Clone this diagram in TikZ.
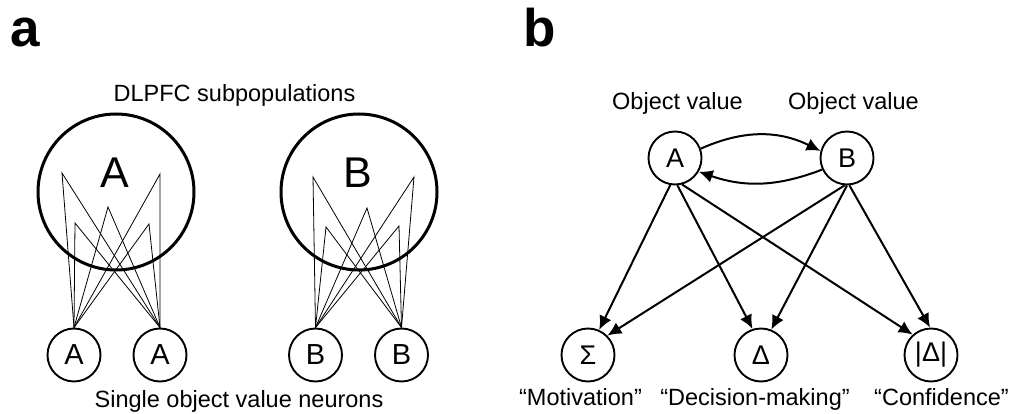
\documentclass[tikz,border=0pt]{standalone}
\usepackage{fontspec}
\setmainfont{Liberation Sans}
\usetikzlibrary{arrows.meta}
\begin{document}
\begin{tikzpicture}[x=1pt,y=-1pt,
  bigpop/.style={circle,draw,line width=3pt,minimum size=156pt,inner sep=0pt},
  neuron/.style={circle,draw,line width=1.9pt,minimum size=53pt,inner sep=0pt,font=\fontsize{29}{32}\selectfont},
  vnode/.style={neuron,font=\fontsize{27}{30}\selectfont},
  biglbl/.style={anchor=base,inner sep=0pt,font=\fontsize{43}{50}\selectfont},
  fiber/.style={line width=0.8pt},
  conn/.style={line width=2pt,-{Latex[length=14pt,width=13pt]}},
  txt/.style={anchor=base,inner sep=0pt,font=\fontsize{23.5}{28}\selectfont},
  panel/.style={anchor=base west,inner sep=0pt,font=\fontsize{53}{60}\selectfont\bfseries}]
\useasboundingbox (0,0) rectangle (1011,414);

% ---------- panel a ----------
\node[panel] (la) at (10,47) {a};
\node[txt] (dlpfc) at (234.5,102) {DLPFC subpopulations};
\node[bigpop] (popA) at (116,192) {};
\node[bigpop] (popB) at (359,192) {};
\node[biglbl] (popAl) at (115,187) {A};
\node[biglbl] (popBl) at (357.5,187) {B};
\node[neuron] (na1) at (74,355) {A};
\node[neuron] (na2) at (160,355) {A};
\node[neuron] (nb1) at (315.5,355) {B};
\node[neuron] (nb2) at (401.5,355) {B};
\node[txt] (single) at (239,407) {Single object value neurons};

\coordinate (pa1) at (62,173);
\coordinate (pa2) at (75,223);
\coordinate (pa3) at (108,207);
\coordinate (pa4) at (149,224);
\coordinate (pa5) at (160,174);
\coordinate (pb1) at (313,177);
\coordinate (pb2) at (326,227);
\coordinate (pb3) at (367,208);
\coordinate (pb4) at (399,226);
\coordinate (pb5) at (414,177);
\foreach \p in {pa1,pa2,pa3,pa4,pa5}
  \draw[fiber] (na1.north) -- (\p) -- (na2.north);
\foreach \p in {pb1,pb2,pb3,pb4,pb5}
  \draw[fiber] (nb1.north) -- (\p) -- (nb2.north);

% ---------- panel b ----------
\node[panel] (lb) at (523,47) {b};
\node[txt] (ova) at (677.5,110) {Object value};
\node[txt] (ovb) at (853.5,110) {Object value};
\node[vnode] (A) at (675,158) {A};
\node[vnode] (B) at (847,158) {B};
\node[vnode] (S) at (588,355) {Σ};
\node[vnode] (D) at (761,355) {Δ};
\node[vnode] (C) at (931,355) {|Δ|};
\node[txt] (mot) at (580.5,405) {“Motivation”};
\node[txt] (dec) at (755,405) {“Decision-making”};
\node[txt] (con) at (941.5,405) {“Confidence”};

\draw[conn] (A.20) to[bend left=25] (B.165);
\draw[conn] (B.205) to[bend left=20] (A.-30);
\draw[conn] (A.-100) -- (S.66);
\draw[conn] (A.-85) -- (D.108);
\draw[conn] (A.-75) -- (C.132);
\draw[conn] (B.-95) -- (S.45);
\draw[conn] (B.-90) -- (D.68);
\draw[conn] (B.-85) -- (C.92);
\end{tikzpicture}
\end{document}
